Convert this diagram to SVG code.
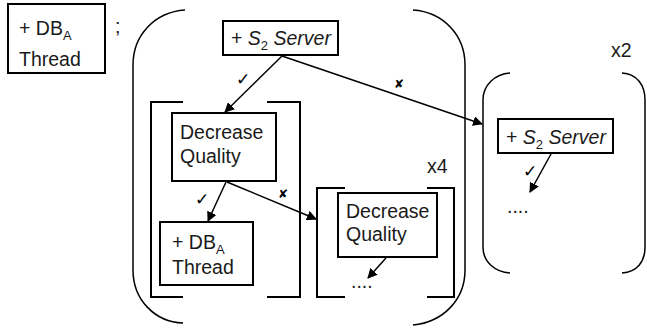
<svg xmlns="http://www.w3.org/2000/svg" width="647" height="331" viewBox="0 0 647 331">
<defs>
<marker id="ah" viewBox="0 0 10 10" refX="9" refY="5" markerWidth="10" markerHeight="10" markerUnits="userSpaceOnUse" orient="auto">
<path d="M0,0 L10,5 L0,10 z" fill="#000"/>
</marker>
</defs>
<style>
.box{fill:#fff;stroke:#000;stroke-width:2}
.br{fill:none;stroke:#000;stroke-width:2}
.par{fill:none;stroke:#000;stroke-width:1.5}
.t{font-family:"Liberation Sans",Arial,sans-serif;font-size:19.5px;fill:#1a1a1a}
.i{font-style:italic}
.sub{font-size:13px}
.arr{stroke:#000;stroke-width:1.5;fill:none;marker-end:url(#ah)}
.ok{font-family:"DejaVu Sans",sans-serif;font-size:17px;fill:#000}
.no{font-family:"DejaVu Sans",sans-serif;font-size:12px;fill:#000}
</style>
<rect width="647" height="331" fill="#fff"/>

<g id="dba-top">
<rect class="box" x="8" y="4" width="97" height="69"/>
<text class="t" x="19" y="35">+ DB<tspan class="sub" dy="5">A</tspan></text>
<text class="t" x="19" y="66">Thread</text>
</g>
<text class="t" x="115" y="33">;</text>

<g id="group-main">
<path class="par" d="M185,10 C155,12 133,35 133,65 L133,270 C133,300 155,322 183,323"/>
<path class="par" d="M413,10 C443,12 465,35 465,65 L465,270 C465,300 443,322 413,325"/>
</g>

<g id="s2-server">
<rect class="box" x="223" y="21" width="115" height="34"/>
<text class="t" x="231" y="45">+ <tspan class="i">S</tspan><tspan class="sub" dy="5">2</tspan><tspan class="i" dy="-5"> Server</tspan></text>
</g>

<g id="bracket-inner">
<path class="br" d="M183,102 H151 V297 H183"/>
<path class="br" d="M267,102 H300 V297 H267"/>
</g>

<g id="dq1">
<rect class="box" x="172" y="113" width="104" height="68"/>
<text class="t" x="180" y="139">Decrease</text>
<text class="t" x="180" y="163">Quality</text>
</g>

<g id="dba-inner">
<rect class="box" x="160" y="222" width="93" height="63"/>
<text class="t" x="172" y="249">+ DB<tspan class="sub" dy="5">A</tspan></text>
<text class="t" x="172" y="274">Thread</text>
</g>

<g id="bracket-x4">
<path class="br" d="M345,188 H317 V297 H345"/>
<path class="br" d="M427,188 H454 V297 H427"/>
<text class="t" x="427" y="173">x4</text>
</g>

<g id="dq2">
<rect class="box" x="338" y="193" width="99" height="64"/>
<text class="t" x="346" y="218">Decrease</text>
<text class="t" x="346" y="241">Quality</text>
<text class="t" x="351" y="288">....</text>
</g>

<g id="group-x2">
<path class="par" d="M510,73 C495,74 483,85 483,100 L483,247 C483,262 495,272 510,273"/>
<path class="par" d="M622,73 C637,74 645,85 645,100 L645,247 C645,262 637,272 622,273"/>
<text class="t" x="611" y="57">x2</text>
</g>

<g id="s2-server-2">
<rect class="box" x="498" y="119" width="115" height="34"/>
<text class="t" x="506" y="144">+ <tspan class="i">S</tspan><tspan class="sub" dy="5">2</tspan><tspan class="i" dy="-5"> Server</tspan></text>
<text class="t" x="507" y="213">....</text>
</g>

<g id="connectors">
<line class="arr" x1="282" y1="56" x2="225" y2="112"/>
<line class="arr" x1="282" y1="56" x2="482" y2="124"/>
<line class="arr" x1="226" y1="182" x2="208" y2="221"/>
<line class="arr" x1="227" y1="182" x2="316" y2="219"/>
<line class="arr" x1="386" y1="258" x2="368" y2="278"/>
<line class="arr" x1="551" y1="154" x2="530" y2="192"/>
<text class="ok" x="236" y="85">✓</text>
<text class="no" x="394" y="88">✘</text>
<text class="ok" x="195" y="205">✓</text>
<text class="no" x="278" y="198">✘</text>
<text class="ok" x="523" y="177">✓</text>
</g>
</svg>
